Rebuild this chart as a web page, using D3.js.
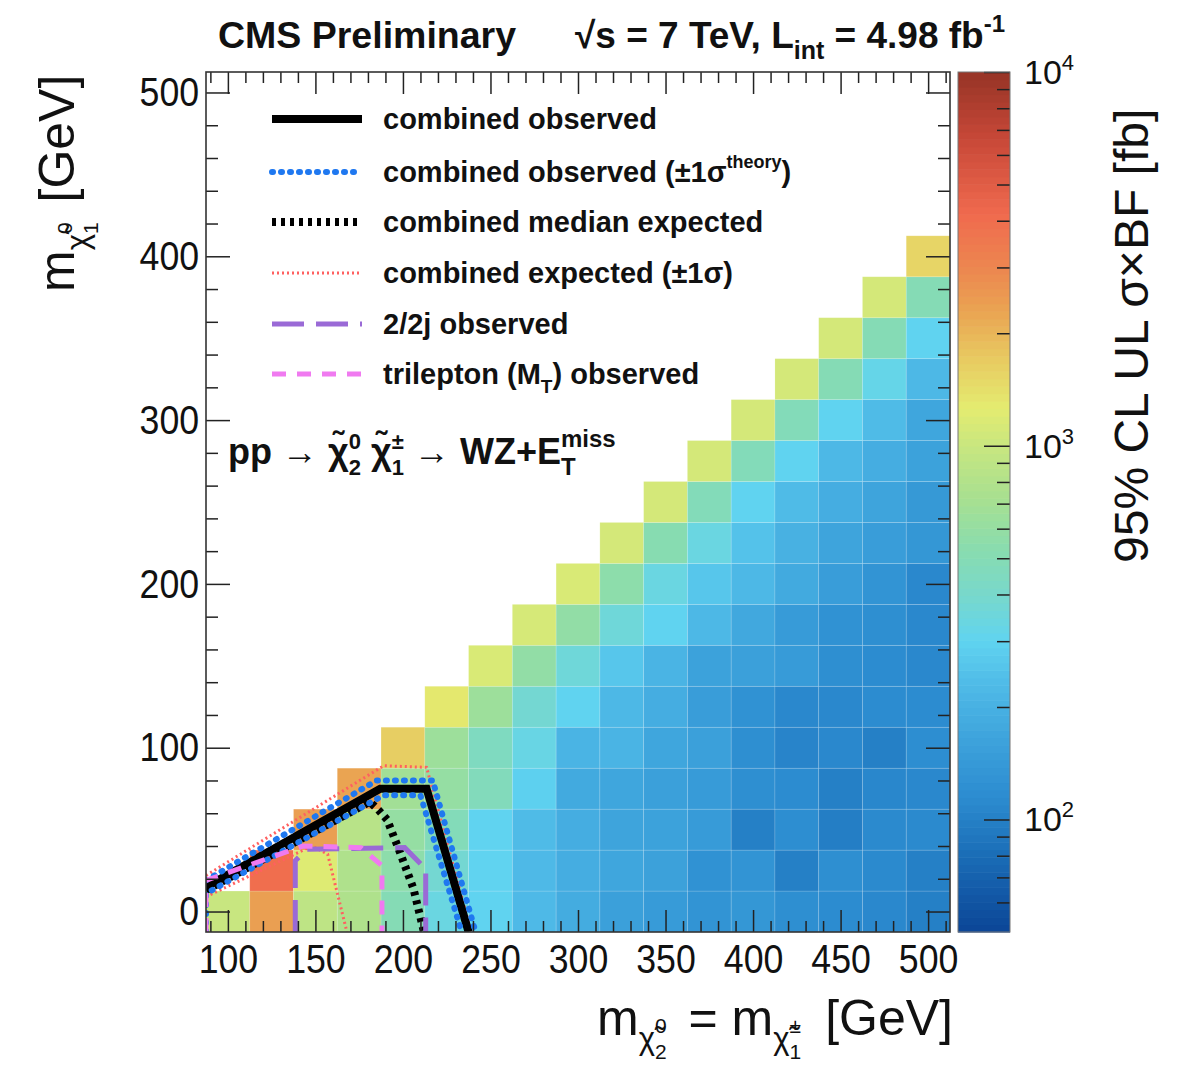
<!DOCTYPE html>
<html>
<head>
<meta charset="utf-8">
<script src="https://cdn.jsdelivr.net/npm/d3@7"></script>
<style>
  body { margin: 0; background: #fff; }
  text { font-family: 'Liberation Sans', Arial, Helvetica, sans-serif; fill: #111; }
</style>
</head>
<body>
<svg id="chart" width="1181" height="1071"></svg>
<script>
// bin centres [GeV]
const massX = [100, 125, 150, 175, 200, 225, 250, 275, 300, 325, 350, 375, 400, 425, 450, 475, 500]
const massY = [0, 25, 50, 75, 100, 125, 150, 175, 200, 225, 250, 275, 300, 325, 350, 375, 400]

// 95% CL UL sigma x BF [fb], one row per massY, starting at the diagonal bin
const limitRows = [
  [1000, 2400, 900, 780, 500, 340, 300, 225, 185, 155, 145, 130, 135, 120, 115, 110, 100],
  [4000, 1200, 780, 550, 380, 300, 225, 190, 170, 158, 125, 130, 100, 120, 112, 100],
  [2400, 850, 600, 480, 300, 230, 190, 165, 160, 145, 100, 118, 98, 112, 112],
  [2300, 680, 600, 470, 290, 180, 170, 155, 145, 120, 115, 100, 108, 110],
  [1650, 650, 450, 330, 210, 210, 170, 155, 120, 105, 110, 100, 118],
  [1300, 650, 380, 300, 220, 190, 150, 125, 110, 110, 115, 115],
  [1150, 580, 360, 260, 210, 160, 155, 145, 120, 115, 110],
  [1120, 580, 360, 300, 220, 175, 145, 125, 120, 110],
  [1150, 550, 340, 260, 220, 180, 150, 130, 110],
  [1100, 520, 340, 250, 200, 165, 150, 135],
  [1100, 480, 300, 230, 190, 165, 140],
  [1100, 480, 300, 220, 190, 160],
  [1100, 480, 300, 230, 170],
  [1100, 500, 320, 220],
  [1100, 500, 300],
  [1100, 500],
  [1550]
]

// exclusion contours [mChi2, mChi1]
const obsLine = [[87.5, 15], [187, 75], [213.5, 75], [237.5, -12.5]]
const obsUp = [[87.5, 19], [185, 80], [217, 80], [241.5, -12.5]]
const obsDown = [[87.5, -12.5], [87.5, 11], [189, 71], [210, 71], [233.5, -12.5]]
const expLine = [[87.5, 13], [181, 67], [186, 62], [191, 56], [198, 37], [206, 14], [212, -12.5]]
const expUp = [[87.5, 22], [189, 89], [213.5, 88], [239, -12.5]]
const expDown = [[87.5, 9], [148, 40], [157, 35], [168, -12.5]]
const twoLepLine = [[138.5, -12.5], [138.5, 31], [145, 38], [201, 39], [213, 26], [213, -12.5]]
const triLepLine = [[87.5, -12.5], [87.5, 19], [143, 40], [176, 39], [188, 28], [188, -12.5]]

const xTicks = [100, 150, 200, 250, 300, 350, 400, 450, 500]
const yTicks = [0, 100, 200, 300, 400, 500]
const zTicks = [100, 1000, 10000]
const zMinor = [60, 70, 80, 90, 200, 300, 400, 500, 600, 700, 800, 900, 2000, 3000, 4000, 5000, 6000, 7000, 8000, 9000]

// palette (log10 of fb -> colour)
const paletteLog = [1.699, 1.9, 2.06, 2.22, 2.37, 2.48, 2.6, 2.72, 2.86, 3.0, 3.1, 3.24, 3.36, 3.47, 3.62, 3.82, 4.0]
const paletteHex = ['#0b4596', '#1a6cb6', '#2c8cd0', '#3ea4dc', '#50bce8', '#60d4f0', '#78d8cc', '#88dcb0',
  '#a8e090', '#c8e680', '#e4ec70', '#e8c860', '#eaa452', '#ec8850', '#f06a4e', '#c84838', '#963426']

const legendLabels = [
  [{ t: 'combined observed' }],
  [{ t: 'combined observed (±1σ' }, { t: 'theory', off: -14, size: 18 }, { t: ')', off: 0 }],
  [{ t: 'combined median expected' }],
  [{ t: 'combined expected (±1σ)' }],
  [{ t: '2/2j observed' }],
  [{ t: 'trilepton (M' }, { t: 'T', off: 9, size: 19 }, { t: ') observed', off: 0 }]
]

const styles = {
  obs: { stroke: '#000', width: 8, dash: null, cap: 'butt' },
  theory: { stroke: '#1f78f0', width: 6, dash: '1,8', cap: 'round' },
  exp: { stroke: '#000', width: 8, dash: '4,5', cap: 'butt' },
  expBand: { stroke: '#ff6060', width: 3, dash: '2,3', cap: 'butt' },
  twoLep: { stroke: '#9a6ad6', width: 5, dash: '32,12', cap: 'butt' },
  triLep: { stroke: '#f07af0', width: 5, dash: '14,11', cap: 'butt' }
}

const plot = { left: 206, right: 950, top: 72, bottom: 932 }
const bar = { left: 958, right: 1010 }
const svg = d3.select('#chart')

const x = d3.scaleLinear().domain([87.5, 512.5]).range([plot.left, plot.right])
const y = d3.scaleLinear().domain([-12.5, 512.5]).range([plot.bottom, plot.top])
const z = d3.scaleLog().domain([50, 10000]).range([plot.bottom, plot.top])
const color = d3.scaleLinear().domain(paletteLog).range(paletteHex).clamp(true)
const fill = v => color(Math.log10(v))

// rich text: parts with vertical offset (px) and size, back = stack on previous part
const rich = (text, parts, fs) => {
  let cur = 0
  let prevW = 0
  parts.forEach(p => {
    const off = p.off || 0
    const span = text.append('tspan')
      .attr('font-size', p.size || fs)
      .attr('dy', off - cur)
      .text(p.t)
    if (p.back) span.attr('dx', -prevW)
    else if (p.gap) span.attr('dx', p.gap)
    cur = off
    prevW = span.node().getComputedTextLength()
  })
}

// heat map
const cells = []
limitRows.forEach((row, j) => {
  row.forEach((v, k) => cells.push({ mx: massX[j + k], my: massY[j], v }))
})
const cw = x(112.5) - x(87.5)
const ch = y(-12.5) - y(12.5)

svg.append('g').attr('class', 'cells')
  .selectAll('rect')
  .data(cells)
  .enter()
  .append('rect')
  .attr('x', d => x(d.mx) - cw / 2)
  .attr('y', d => y(d.my) - ch / 2)
  .attr('width', cw)
  .attr('height', ch)
  .attr('fill', d => fill(d.v))
  .attr('stroke', 'rgba(255,255,255,0.18)')
  .attr('stroke-width', 0.8)

// contours
svg.append('clipPath').attr('id', 'clip')
  .append('rect')
  .attr('x', plot.left).attr('y', plot.top)
  .attr('width', plot.right - plot.left).attr('height', plot.bottom - plot.top)

const line = d3.line().x(d => x(d[0])).y(d => y(d[1]))
const contours = [
  [expUp, styles.expBand], [expDown, styles.expBand],
  [expLine, styles.exp],
  [obsLine, styles.obs],
  [obsUp, styles.theory], [obsDown, styles.theory],
  [twoLepLine, styles.twoLep],
  [triLepLine, styles.triLep]
]
const cg = svg.append('g').attr('clip-path', 'url(#clip)')
contours.forEach(([pts, s]) => {
  cg.append('path')
    .attr('d', line(pts))
    .attr('fill', 'none')
    .attr('stroke', s.stroke)
    .attr('stroke-width', s.width)
    .attr('stroke-dasharray', s.dash)
    .attr('stroke-linecap', s.cap)
    .attr('stroke-linejoin', 'miter')
})

// axes
const styleAxis = (g, withText) => {
  g.select('.domain').remove()
  g.selectAll('line').attr('stroke', '#222').attr('stroke-width', 1.5)
  if (withText) {
    g.selectAll('text')
      .attr('font-size', 41)
      .attr('fill', '#111')
      .attr('transform', 'scale(0.87,1)')
  } else {
    g.selectAll('text').remove()
  }
}
const xMinor = d3.range(90, 511, 10).filter(v => v % 50 !== 0)
const yMinor = d3.range(20, 500, 20).filter(v => v % 100 !== 0)

svg.append('g').attr('class', 'axis axis-x')
  .attr('transform', `translate(0,${plot.bottom})`)
  .call(d3.axisBottom(x).tickValues(xTicks).tickSizeInner(-22).tickSizeOuter(0).tickPadding(12))
  .call(g => styleAxis(g, true))
svg.append('g')
  .attr('transform', `translate(0,${plot.bottom})`)
  .call(d3.axisBottom(x).tickValues(xMinor).tickSizeInner(-11).tickSizeOuter(0))
  .call(g => styleAxis(g, false))
svg.append('g')
  .attr('transform', `translate(0,${plot.top})`)
  .call(d3.axisTop(x).tickValues(xTicks).tickSizeInner(-22).tickSizeOuter(0))
  .call(g => styleAxis(g, false))
svg.append('g')
  .attr('transform', `translate(0,${plot.top})`)
  .call(d3.axisTop(x).tickValues(xMinor).tickSizeInner(-11).tickSizeOuter(0))
  .call(g => styleAxis(g, false))

svg.append('g').attr('class', 'axis axis-y')
  .attr('transform', `translate(${plot.left},0)`)
  .call(d3.axisLeft(y).tickValues(yTicks).tickSizeInner(-24).tickSizeOuter(0).tickPadding(8))
  .call(g => styleAxis(g, true))
svg.append('g')
  .attr('transform', `translate(${plot.left},0)`)
  .call(d3.axisLeft(y).tickValues(yMinor).tickSizeInner(-12).tickSizeOuter(0))
  .call(g => styleAxis(g, false))
svg.append('g')
  .attr('transform', `translate(${plot.right},0)`)
  .call(d3.axisRight(y).tickValues(yTicks).tickSizeInner(-24).tickSizeOuter(0))
  .call(g => styleAxis(g, false))
svg.append('g')
  .attr('transform', `translate(${plot.right},0)`)
  .call(d3.axisRight(y).tickValues(yMinor).tickSizeInner(-12).tickSizeOuter(0))
  .call(g => styleAxis(g, false))

svg.append('rect')
  .attr('x', plot.left).attr('y', plot.top)
  .attr('width', plot.right - plot.left).attr('height', plot.bottom - plot.top)
  .attr('fill', 'none').attr('stroke', '#333').attr('stroke-width', 1.6)

// colour bar
const logLo = Math.log10(50)
const nBands = 115
const step = (4 - logLo) / nBands
svg.append('g').attr('class', 'colorbar')
  .selectAll('rect')
  .data(d3.range(nBands))
  .enter()
  .append('rect')
  .attr('x', bar.left)
  .attr('width', bar.right - bar.left)
  .attr('y', k => z(Math.pow(10, logLo + (k + 1) * step)))
  .attr('height', k => z(Math.pow(10, logLo + k * step)) - z(Math.pow(10, logLo + (k + 1) * step)) + 0.6)
  .attr('fill', k => color(logLo + (k + 0.5) * step))

svg.append('g')
  .attr('transform', `translate(${bar.right},0)`)
  .call(d3.axisRight(z).tickValues(zTicks).tickSizeInner(-26).tickSizeOuter(0))
  .call(g => styleAxis(g, false))
svg.append('g')
  .attr('transform', `translate(${bar.right},0)`)
  .call(d3.axisRight(z).tickValues(zMinor).tickSizeInner(-13).tickSizeOuter(0))
  .call(g => styleAxis(g, false))
svg.append('rect')
  .attr('x', bar.left).attr('y', plot.top)
  .attr('width', bar.right - bar.left).attr('height', plot.bottom - plot.top)
  .attr('fill', 'none').attr('stroke', '#777').attr('stroke-width', 1)

zTicks.forEach(v => {
  const t = svg.append('text')
    .attr('x', 1024)
    .attr('y', z(v) + 12)
  rich(t, [{ t: '10' }, { t: String(Math.round(Math.log10(v))), off: -14, size: 22 }], 34)
})

// legend
const legendRowY = [119, 172, 222, 273, 324, 374]
const legendStyles = [styles.obs, styles.theory, styles.exp, styles.expBand, styles.twoLep, styles.triLep]
legendRowY.forEach((ly, i) => {
  const s = legendStyles[i]
  svg.append('line')
    .attr('x1', 272).attr('x2', 362)
    .attr('y1', ly).attr('y2', ly)
    .attr('stroke', s.stroke)
    .attr('stroke-width', s.width)
    .attr('stroke-dasharray', s.dash)
    .attr('stroke-linecap', s.cap)
  const t = svg.append('text')
    .attr('x', 383)
    .attr('y', ly + 10)
    .attr('font-weight', 'bold')
  rich(t, legendLabels[i], 29)
})

// process label
const proc = svg.append('text').attr('x', 228).attr('y', 464).attr('font-weight', 'bold')
rich(proc, [
  { t: 'pp → χ̃' },
  { t: '0', off: -15, size: 22 },
  { t: '2', off: 11, size: 22, back: true },
  { t: ' χ̃', off: 0 },
  { t: '±', off: -15, size: 22 },
  { t: '1', off: 11, size: 22, back: true },
  { t: ' → WZ+E', off: 0 },
  { t: 'miss', off: -17, size: 24 },
  { t: 'T', off: 11, size: 24, back: true }
], 36)

// titles
svg.append('text')
  .attr('x', 218).attr('y', 48)
  .attr('font-weight', 'bold').attr('font-size', 37.5)
  .text('CMS Preliminary')
const lumi = svg.append('text').attr('x', 575).attr('y', 48).attr('font-weight', 'bold')
rich(lumi, [
  { t: '√s = 7 TeV, L' },
  { t: 'int', off: 11, size: 25 },
  { t: ' = 4.98 fb', off: 0 },
  { t: '-1', off: -16, size: 24 }
], 37)

const xTitle = svg.append('text').attr('x', 597).attr('y', 1035)
rich(xTitle, [
  { t: 'm' },
  { t: 'χ̃', off: 14, size: 31 },
  { t: '0', off: -2, size: 21 },
  { t: '2', off: 24, size: 21, back: true },
  { t: ' = m', off: 0, gap: 8 },
  { t: 'χ̃', off: 14, size: 31 },
  { t: '±', off: -2, size: 21 },
  { t: '1', off: 24, size: 21, back: true },
  { t: ' [GeV]', off: 0, gap: 10 }
], 50)

const yTitle = svg.append('text').attr('transform', 'translate(74,292) rotate(-90)')
rich(yTitle, [
  { t: 'm' },
  { t: 'χ̃', off: 14, size: 31 },
  { t: '0', off: -2, size: 21 },
  { t: '1', off: 24, size: 21, back: true },
  { t: ' [GeV]', off: 0, gap: 6 }
], 50)

svg.append('text')
  .attr('transform', 'translate(1148,563) rotate(-90)')
  .attr('font-size', 48)
  .text('95% CL UL σ×BF [fb]')
</script>
</body>
</html>
